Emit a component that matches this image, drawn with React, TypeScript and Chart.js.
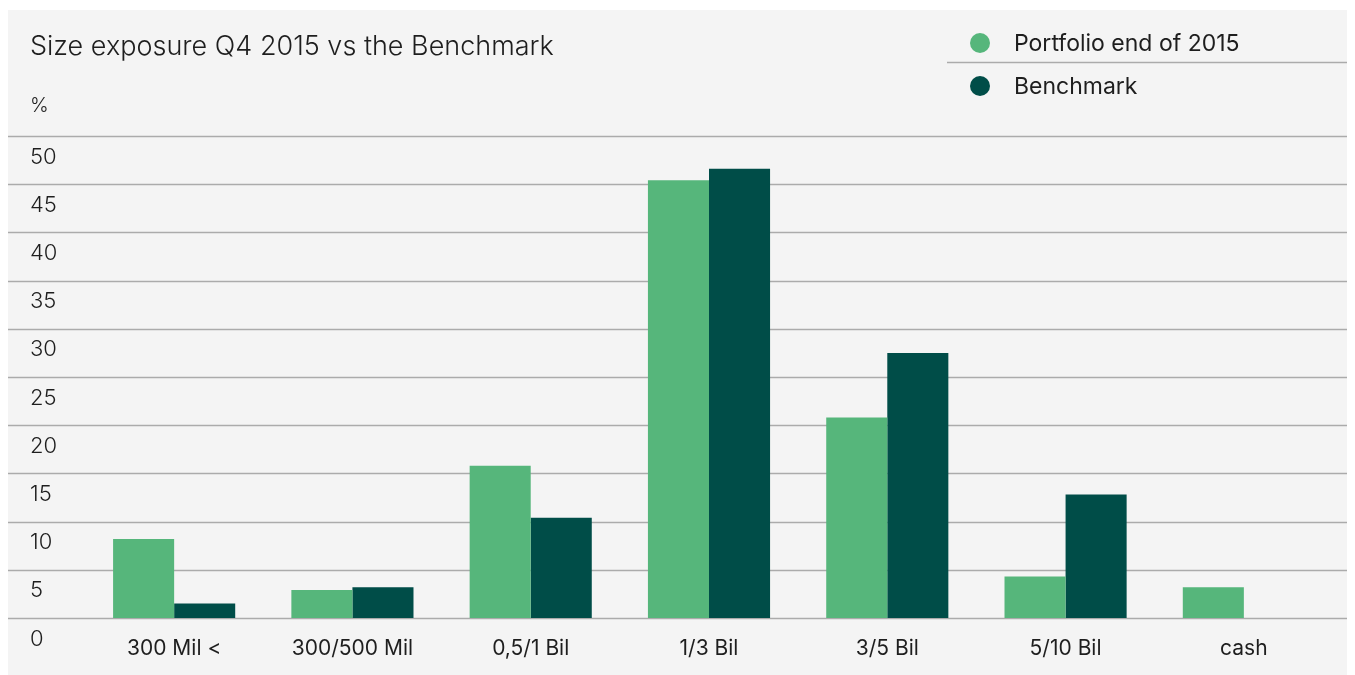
import React, { useEffect, useRef } from "react";
import { Chart, registerables } from "chart.js";

Chart.register(...registerables);

const TITLE = "Size exposure Q4 2015 vs the Benchmark";
const UNIT = "%";
const categories = ["300 Mil <", "300/500 Mil", "0,5/1 Bil", "1/3 Bil", "3/5 Bil", "5/10 Bil", "cash"];
const portfolio = [8.2, 2.9, 15.8, 45.4, 20.8, 4.3, 3.2];
const benchmark = [1.5, 3.2, 10.4, 46.6, 27.5, 12.8, 0];
const seriesNames = ["Portfolio end of 2015", "Benchmark"];
const colors = ["#56b67b", "#004d48"];
const FONT = "Inter, 'Noto Sans', sans-serif";

const decorPlugin = {
  id: "decor",
  beforeDatasetsDraw(chart: any) {
    const { ctx, width } = chart;
    const y = chart.scales.y;
    ctx.save();
    ctx.strokeStyle = "#ababab";
    ctx.lineWidth = 1.5;
    y.ticks.forEach((t: any) => {
      const py = Math.round(y.getPixelForValue(t.value)) + 0.5;
      ctx.beginPath();
      ctx.moveTo(0, py);
      ctx.lineTo(width, py);
      ctx.stroke();
    });
    ctx.restore();
  },
  afterDraw(chart: any) {
    const { ctx, width } = chart;
    ctx.save();
    ctx.fillStyle = "#1e1e1e";
    ctx.textBaseline = "middle";
    ctx.textAlign = "left";
    ctx.font = `300 27px ${FONT}`;
    ctx.fillText(TITLE, 22, 37);
    ctx.font = `300 20px ${FONT}`;
    ctx.fillText(UNIT, 22, 96);
    // legend
    ctx.strokeStyle = "#ababab";
    ctx.lineWidth = 1.5;
    ctx.beginPath();
    ctx.moveTo(939, 52.5);
    ctx.lineTo(width, 52.5);
    ctx.stroke();
    const ys = [33, 76];
    chart.data.datasets.forEach((ds: any, i: number) => {
      ctx.fillStyle = ds.backgroundColor;
      ctx.beginPath();
      ctx.arc(972, ys[i], 10, 0, Math.PI * 2);
      ctx.fill();
      ctx.fillStyle = "#1e1e1e";
      ctx.font = `400 23px ${FONT}`;
      ctx.fillText(ds.label, 1006, ys[i] + 1);
    });
    ctx.restore();
  },
};

export default function App() {
  const ref = useRef<HTMLCanvasElement>(null);
  useEffect(() => {
    if (!ref.current) return;
    const chart = new Chart(ref.current, {
      type: "bar",
      data: {
        labels: categories,
        datasets: [
          { label: seriesNames[0], data: portfolio, backgroundColor: colors[0] },
          { label: seriesNames[1], data: benchmark, backgroundColor: colors[1] },
        ],
      },
      options: {
        animation: false,
        responsive: false,
        maintainAspectRatio: false,
        layout: { padding: { left: 22, right: 22, top: 126, bottom: 0 } },
        datasets: { bar: { categoryPercentage: 0.685, barPercentage: 1, borderWidth: 0 } } as any,
        plugins: { legend: { display: false }, title: { display: false }, tooltip: { enabled: false } },
        scales: {
          x: {
            grid: { display: false, drawTicks: false },
            border: { display: false },
            ticks: { color: "#1e1e1e", font: { family: FONT, size: 21, weight: 400 }, padding: 18, maxRotation: 0 },
            afterFit: (s: any) => { s.height = 57; },
          },
          y: {
            min: 0,
            max: 50,
            grid: { display: false, drawTicks: false },
            border: { display: false },
            afterFit: (s: any) => { s.width = 55; },
            ticks: {
              stepSize: 5,
              crossAlign: "far",
              labelOffset: 21,
              color: "#1e1e1e",
              font: { family: FONT, size: 22, weight: 300 },
            },
          },
        },
      },
      plugins: [decorPlugin],
    });
    return () => chart.destroy();
  }, []);
  return (
    <div style={{ marginTop: 2, background: "#f4f4f4", width: 1347, height: 665 }}>
      <canvas ref={ref} width={1347} height={665} style={{ display: "block" }} />
    </div>
  );
}
